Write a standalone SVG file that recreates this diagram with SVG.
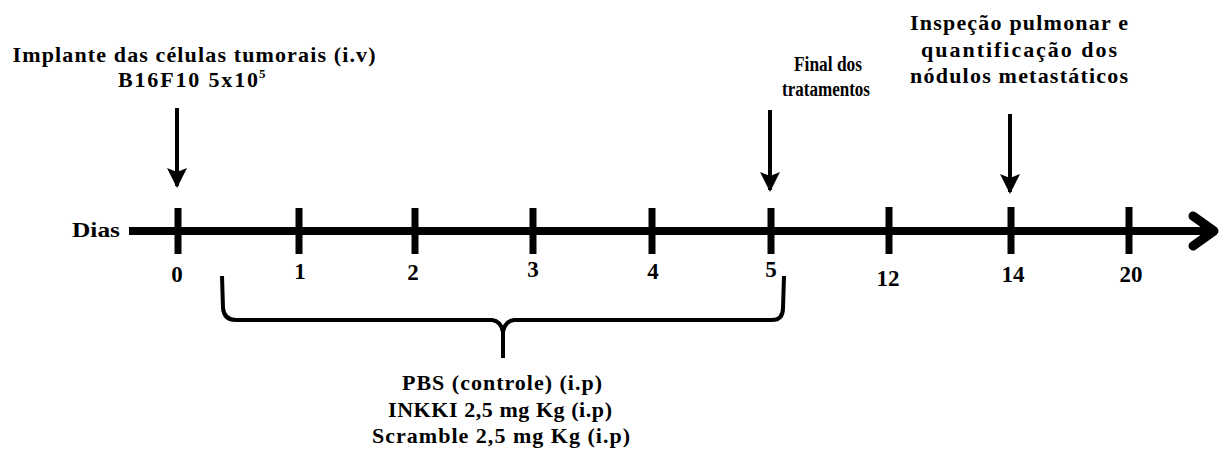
<svg xmlns="http://www.w3.org/2000/svg" width="1221" height="452" viewBox="0 0 1221 452">
  <style>
    text { font-family: "Liberation Serif", "Times New Roman", serif; font-weight: bold; fill: #000; }
    .lbl { font-size: 22px; text-anchor: middle; }
    .num { font-size: 23px; text-anchor: middle; }
    .axis { stroke: #000; stroke-width: 8; fill: none; }
    .tick { stroke: #000; stroke-width: 7; fill: none; }
    .shaft { stroke: #000; stroke-width: 4; fill: none; }
    .brace { stroke: #000; stroke-width: 4; fill: none; stroke-linejoin: round; }
  </style>
  <defs>
    <marker id="head" viewBox="0 0 10 10" refX="9" refY="5" markerWidth="5" markerHeight="5.5" markerUnits="strokeWidth" orient="auto">
      <path d="M0,0 L10,5 L0,10 L2,5 Z" fill="#000"/>
    </marker>
  </defs>
  <rect width="1221" height="452" fill="#fff"/>

  <!-- timeline axis -->
  <g id="timeline">
    <text x="72" y="237" style="font-size:21px" textLength="48" lengthAdjust="spacingAndGlyphs">Dias</text>
    <line class="axis" x1="129" y1="231" x2="1212" y2="231"/>
    <polyline class="axis" points="1193,216 1214,231 1193,246" stroke-linejoin="round" stroke-linecap="round" style="stroke-width:9"/>
    <g id="ticks">
      <line class="tick" x1="178" y1="208" x2="178" y2="254"/>
      <line class="tick" x1="299" y1="208" x2="299" y2="254"/>
      <line class="tick" x1="415" y1="208" x2="415" y2="254"/>
      <line class="tick" x1="533" y1="208" x2="533" y2="254"/>
      <line class="tick" x1="652" y1="208" x2="652" y2="254"/>
      <line class="tick" x1="771" y1="208" x2="771" y2="254"/>
      <line class="tick" x1="889" y1="207" x2="889" y2="254"/>
      <line class="tick" x1="1011" y1="207" x2="1011" y2="254"/>
      <line class="tick" x1="1129" y1="207" x2="1129" y2="254"/>
    </g>
    <g id="day-labels">
      <text class="num" x="177" y="282">0</text>
      <text class="num" x="300" y="279">1</text>
      <text class="num" x="413" y="280">2</text>
      <text class="num" x="533" y="277">3</text>
      <text class="num" x="653" y="279">4</text>
      <text class="num" x="771" y="277">5</text>
      <text class="num" x="888" y="286">12</text>
      <text class="num" x="1013" y="282">14</text>
      <text class="num" x="1131" y="282">20</text>
    </g>
  </g>

  <!-- event callouts -->
  <g id="implante">
    <text class="lbl" x="194" y="62" textLength="363" lengthAdjust="spacing">Implante das células tumorais (i.v)</text>
    <text x="118" y="87" style="font-size:22px" textLength="140" lengthAdjust="spacing">B16F10  5x10</text>
    <text x="259" y="78" style="font-size:13px">5</text>
  </g>
  <g id="final">
    <text class="lbl" x="828" y="71" style="font-size:20px" textLength="68" lengthAdjust="spacingAndGlyphs">Final dos</text>
    <text class="lbl" x="826" y="96" style="font-size:20px" textLength="88" lengthAdjust="spacingAndGlyphs">tratamentos</text>
  </g>
  <g id="inspecao">
    <text class="lbl" x="1019" y="30" textLength="218" lengthAdjust="spacing">Inspeção pulmonar  e</text>
    <text class="lbl" x="1019" y="57" textLength="196" lengthAdjust="spacing">quantificação dos</text>
    <text class="lbl" x="1019" y="83" textLength="218" lengthAdjust="spacing">nódulos metastáticos</text>
  </g>
  <g id="tratamento">
    <text class="lbl" x="502" y="390" textLength="200" lengthAdjust="spacing">PBS (controle)  (i.p)</text>
    <text class="lbl" x="500" y="417" textLength="224" lengthAdjust="spacing">INKKI 2,5 mg Kg (i.p)</text>
    <text class="lbl" x="501" y="443" textLength="258" lengthAdjust="spacing">Scramble 2,5 mg Kg (i.p)</text>
  </g>

  <!-- connectors -->
  <g id="connectors">
    <line class="shaft" x1="177" y1="108" x2="177" y2="186" marker-end="url(#head)"/>
    <line class="shaft" x1="770" y1="110" x2="770" y2="190" marker-end="url(#head)"/>
    <line class="shaft" x1="1010" y1="114" x2="1010" y2="192" marker-end="url(#head)"/>
    <path class="brace" d="M222,276 L223,308 Q224,320 236,320 L492,320 Q501,321 503,332 L503,358 M503,332 Q505,321 514,320 L772,320 Q783,320 783,308 L784,276"/>
  </g>
</svg>
